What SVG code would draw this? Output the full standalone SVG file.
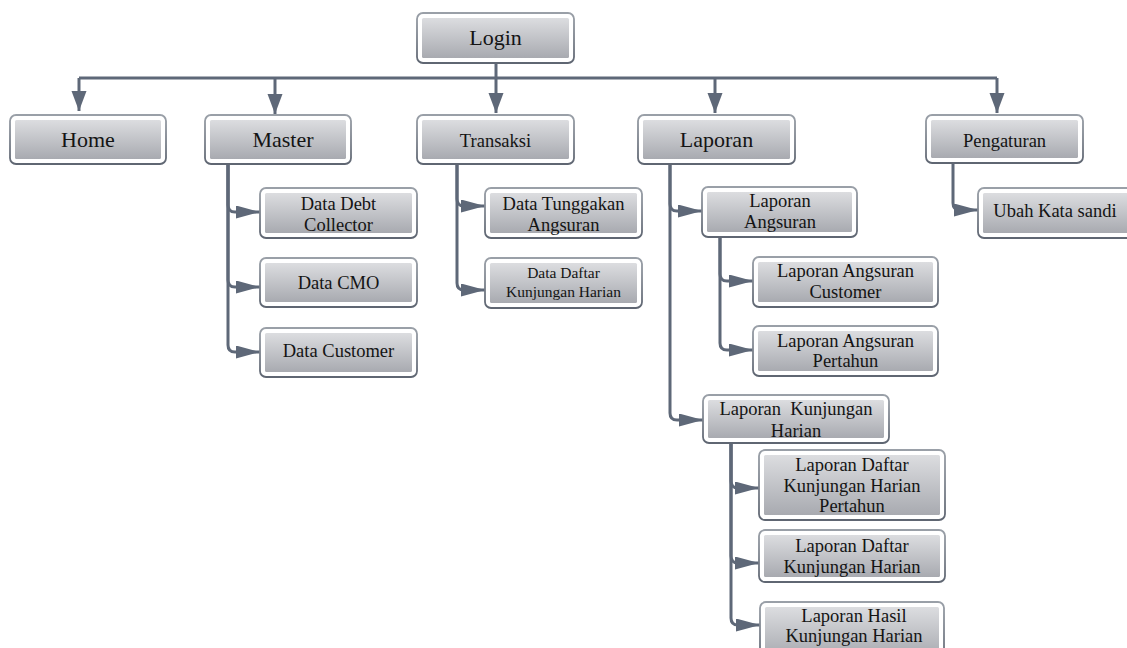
<svg xmlns="http://www.w3.org/2000/svg" width="1127" height="648" viewBox="0 0 1127 648">
<style>
.outer{fill:#ffffff;stroke:url(#bg);stroke-width:1.8}
.inner{fill:url(#g)}
text{font-family:"Liberation Serif","Times New Roman",serif;fill:#141414;text-anchor:middle;white-space:pre}
.big{font-size:22px}
.mid{font-size:18.5px}
.sm{font-size:15.5px}
.con{fill:none;stroke:#5e6878;stroke-width:3}
</style>
<defs>
<linearGradient id="g" x1="0" y1="0" x2="0" y2="1">
<stop offset="0" stop-color="#dcdde0"/>
<stop offset="1" stop-color="#a8aab0"/>
</linearGradient>
<linearGradient id="bg" x1="0" y1="0" x2="0" y2="1">
<stop offset="0" stop-color="#9aa0a8"/>
<stop offset="1" stop-color="#5f6672"/>
</linearGradient>
<marker id="ad" markerUnits="userSpaceOnUse" markerWidth="22" markerHeight="16" refX="20" refY="7.5" orient="auto">
<path d="M0,0 L20,7.5 L0,15 z" fill="#5e6878"/>
</marker>
<marker id="as" markerUnits="userSpaceOnUse" markerWidth="25" markerHeight="14" refX="24" refY="6.5" orient="auto">
<path d="M0,0 L24,6.5 L0,13 z" fill="#5e6878"/>
</marker>
</defs>

<g id="connectors">
<path class="con" d="M79,78 H997"/>
<path class="con" d="M496,63 V113" marker-end="url(#ad)"/>
<path class="con" d="M79,78 V111" marker-end="url(#ad)"/>
<path class="con" d="M275,78 V114" marker-end="url(#ad)"/>
<path class="con" d="M715,78 V113" marker-end="url(#ad)"/>
<path class="con" d="M997,78 V113" marker-end="url(#ad)"/>

<path class="con" d="M228,162 V205 Q228,212 235,212 H260" marker-end="url(#as)"/>
<path class="con" d="M228,162 V280 Q228,287 235,287 H260" marker-end="url(#as)"/>
<path class="con" d="M228,162 V345 Q228,352 235,352 H260" marker-end="url(#as)"/>

<path class="con" d="M457,160 V199 Q457,206 464,206 H485" marker-end="url(#as)"/>
<path class="con" d="M457,160 V283 Q457,290 464,290 H485" marker-end="url(#as)"/>

<path class="con" d="M670,162 V204 Q670,211 677,211 H702" marker-end="url(#as)"/>
<path class="con" d="M670,162 V413 Q670,420 677,420 H703" marker-end="url(#as)"/>

<path class="con" d="M720,235 V274 Q720,281 727,281 H753" marker-end="url(#as)"/>
<path class="con" d="M720,235 V343 Q720,350 727,350 H753" marker-end="url(#as)"/>

<path class="con" d="M731,441 V481 Q731,488 738,488 H759" marker-end="url(#as)"/>
<path class="con" d="M731,441 V556 Q731,563 738,563 H759" marker-end="url(#as)"/>
<path class="con" d="M731,441 V618 Q731,625 738,625 H760" marker-end="url(#as)"/>

<path class="con" d="M953,161 V203 Q953,210 960,210 H978" marker-end="url(#as)"/>
</g>

<g id="login"><rect class="outer" x="417" y="13" width="157" height="50" rx="6"/><rect class="inner" x="422" y="18" width="147" height="40" rx="1.5"/><text class="big" x="495.5" y="45">Login</text></g>

<g id="home"><rect class="outer" x="10" y="115" width="156" height="49" rx="6"/><rect class="inner" x="15" y="120" width="146" height="39" rx="1.5"/><text class="big" x="88" y="147">Home</text></g>
<g id="master"><rect class="outer" x="205" y="115" width="146" height="49" rx="6"/><rect class="inner" x="210" y="120" width="136" height="39" rx="1.5"/><text class="big" x="283" y="147">Master</text></g>
<g id="transaksi"><rect class="outer" x="417" y="115" width="157" height="49" rx="6"/><rect class="inner" x="422" y="120" width="147" height="39" rx="1.5"/><text class="mid" x="495.5" y="146.5">Transaksi</text></g>
<g id="laporan"><rect class="outer" x="638" y="115" width="157" height="49" rx="6"/><rect class="inner" x="643" y="120" width="147" height="39" rx="1.5"/><text class="big" x="716.5" y="147">Laporan</text></g>
<g id="pengaturan"><rect class="outer" x="926" y="115" width="157" height="48" rx="6"/><rect class="inner" x="931" y="120" width="147" height="38" rx="1.5"/><text class="mid" x="1004.5" y="146.5">Pengaturan</text></g>

<g id="data-debt-collector"><rect class="outer" x="260" y="188" width="157" height="50" rx="6"/><rect class="inner" x="265" y="193" width="147" height="40" rx="1.5"/><text class="mid" x="338.5" y="209.5">Data Debt</text><text class="mid" x="338.5" y="230.5">Collector</text></g>
<g id="data-cmo"><rect class="outer" x="260" y="258" width="157" height="49" rx="6"/><rect class="inner" x="265" y="263" width="147" height="39" rx="1.5"/><text class="mid" x="338.5" y="289">Data CMO</text></g>
<g id="data-customer"><rect class="outer" x="260" y="328" width="157" height="49" rx="6"/><rect class="inner" x="265" y="333" width="147" height="39" rx="1.5"/><text class="mid" x="338.5" y="356.5">Data Customer</text></g>

<g id="data-tunggakan-angsuran"><rect class="outer" x="485" y="188" width="157" height="50" rx="6"/><rect class="inner" x="490" y="193" width="147" height="40" rx="1.5"/><text class="mid" x="563.5" y="210">Data Tunggakan</text><text class="mid" x="563.5" y="230.5">Angsuran</text></g>
<g id="data-daftar-kunjungan-harian"><rect class="outer" x="485" y="258" width="157" height="50" rx="6"/><rect class="inner" x="490" y="263" width="147" height="40" rx="1.5"/><text class="sm" x="563.5" y="278">Data Daftar</text><text class="sm" x="563.5" y="296.5">Kunjungan Harian</text></g>

<g id="laporan-angsuran"><rect class="outer" x="702" y="187" width="155" height="50" rx="6"/><rect class="inner" x="707" y="192" width="145" height="40" rx="1.5"/><text class="mid" x="780" y="207">Laporan</text><text class="mid" x="780" y="228">Angsuran</text></g>
<g id="laporan-angsuran-customer"><rect class="outer" x="753" y="257" width="185" height="50" rx="6"/><rect class="inner" x="758" y="262" width="175" height="40" rx="1.5"/><text class="mid" x="845.5" y="276.5">Laporan Angsuran</text><text class="mid" x="845.5" y="297.5">Customer</text></g>
<g id="laporan-angsuran-pertahun"><rect class="outer" x="753" y="326" width="185" height="50" rx="6"/><rect class="inner" x="758" y="331" width="175" height="40" rx="1.5"/><text class="mid" x="845.5" y="346.5">Laporan Angsuran</text><text class="mid" x="845.5" y="366.5">Pertahun</text></g>

<g id="laporan-kunjungan-harian"><rect class="outer" x="703" y="395" width="186" height="48" rx="6"/><rect class="inner" x="708" y="400" width="176" height="38" rx="1.5"/><text class="mid" x="796" y="415">Laporan  Kunjungan</text><text class="mid" x="796" y="436.5">Harian</text></g>
<g id="laporan-daftar-kunjungan-harian-pertahun"><rect class="outer" x="759" y="450" width="186" height="70" rx="6"/><rect class="inner" x="764" y="455" width="176" height="60" rx="1.5"/><text class="mid" x="852" y="470.5">Laporan Daftar</text><text class="mid" x="852" y="491.5">Kunjungan Harian</text><text class="mid" x="852" y="511.5">Pertahun</text></g>
<g id="laporan-daftar-kunjungan-harian"><rect class="outer" x="759" y="530" width="186" height="52" rx="6"/><rect class="inner" x="764" y="535" width="176" height="42" rx="1.5"/><text class="mid" x="852" y="551.5">Laporan Daftar</text><text class="mid" x="852" y="572.5">Kunjungan Harian</text></g>
<g id="laporan-hasil-kunjungan-harian"><rect class="outer" x="760" y="602" width="184" height="60" rx="6"/><rect class="inner" x="765" y="607" width="174" height="50" rx="1.5"/><text class="mid" x="854" y="621.5">Laporan Hasil</text><text class="mid" x="854" y="641.5">Kunjungan Harian</text></g>

<g id="ubah-kata-sandi"><rect class="outer" x="978" y="188" width="158" height="50" rx="6"/><rect class="inner" x="983" y="193" width="148" height="40" rx="1.5"/><text class="mid" x="1055" y="217">Ubah Kata sandi</text></g>
</svg>
